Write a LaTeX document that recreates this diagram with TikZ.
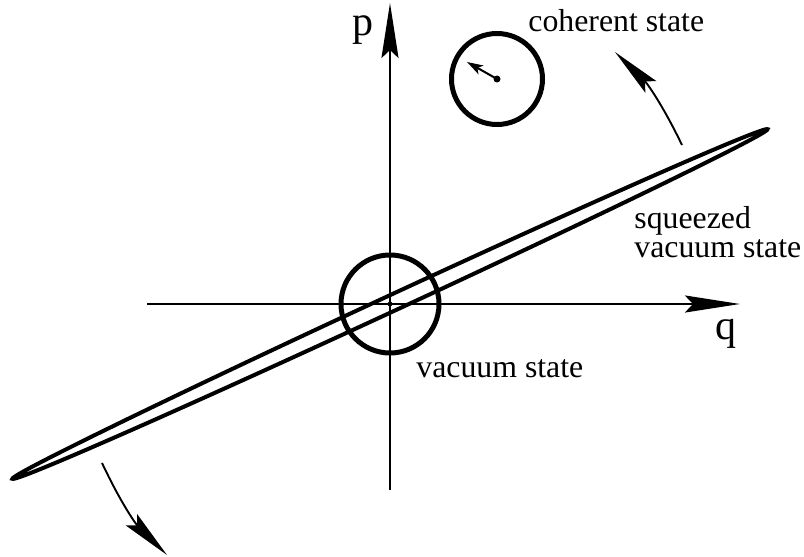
\documentclass[tikz,border=0pt]{standalone}
\usepackage{fontspec}
\setmainfont{Liberation Serif}
\usetikzlibrary{arrows.meta}

\begin{document}
\begin{tikzpicture}[x=0.5pt, y=-0.5pt,
  axis/.style={line width=1.3pt, -{Stealth[length=27.5pt, width=8.5pt, inset=4pt]}},
  state/.style={draw, circle, line width=2.5pt, inner sep=0pt, outer sep=0pt},
  turn/.style={line width=0.95pt, -{Stealth[length=25pt, width=8pt, inset=4pt]}},
  lbl/.style={inner sep=0pt, anchor=base west, align=left, font=\fontsize{15.9}{14.5}\selectfont},
  axlbl/.style={inner sep=0pt, anchor=base west, font=\fontsize{21}{21}\selectfont}]
\useasboundingbox (0,0) rectangle (804,557);
% axes
\coordinate (o) at (390,304);
\coordinate (qfrom) at (147,304);
\coordinate (qto) at (740,304);
\coordinate (pfrom) at (390,490);
\coordinate (pto) at (390,3);
\draw[axis] (qfrom) -- (qto);
\draw[axis] (pfrom) -- (pto);
\node[axlbl] (plabel) at (352,35) {p};
\node[axlbl] (qlabel) at (715,339) {q};
% vacuum state
\node[state, minimum size=49pt] (vac) at (o) {};
\fill (o) circle (1.2pt);
% coherent state
\node[state, minimum size=45.5pt] (coh) at (497,79) {};
\coordinate (cohtip) at (467,62);
\fill (coh.center) circle (1.75pt);
\draw[line width=1pt, -{Stealth[length=8pt, width=5pt, inset=2pt]}] (coh.center) -- (cohtip);
% squeezed vacuum
\draw[line width=2pt, rotate around={24.84:(o)}] (o) ellipse [x radius=208pt, y radius=4pt];
% rotation arrows
\coordinate (upfrom) at (682,145);
\coordinate (upto) at (615,52);
\coordinate (downfrom) at (102,463);
\coordinate (downto) at (167,555);
\draw[turn] (upfrom) to[bend right=10] (upto);
\draw[turn] (downfrom) to[bend right=10] (downto);
% labels
\node[lbl] (cohlabel) at (528,32) {coherent state};
\node[lbl] (sqlabel) at (634,257) {squeezed\\vacuum state};
\node[lbl] (vaclabel) at (416,377) {vacuum state};
\end{tikzpicture}
\end{document}
